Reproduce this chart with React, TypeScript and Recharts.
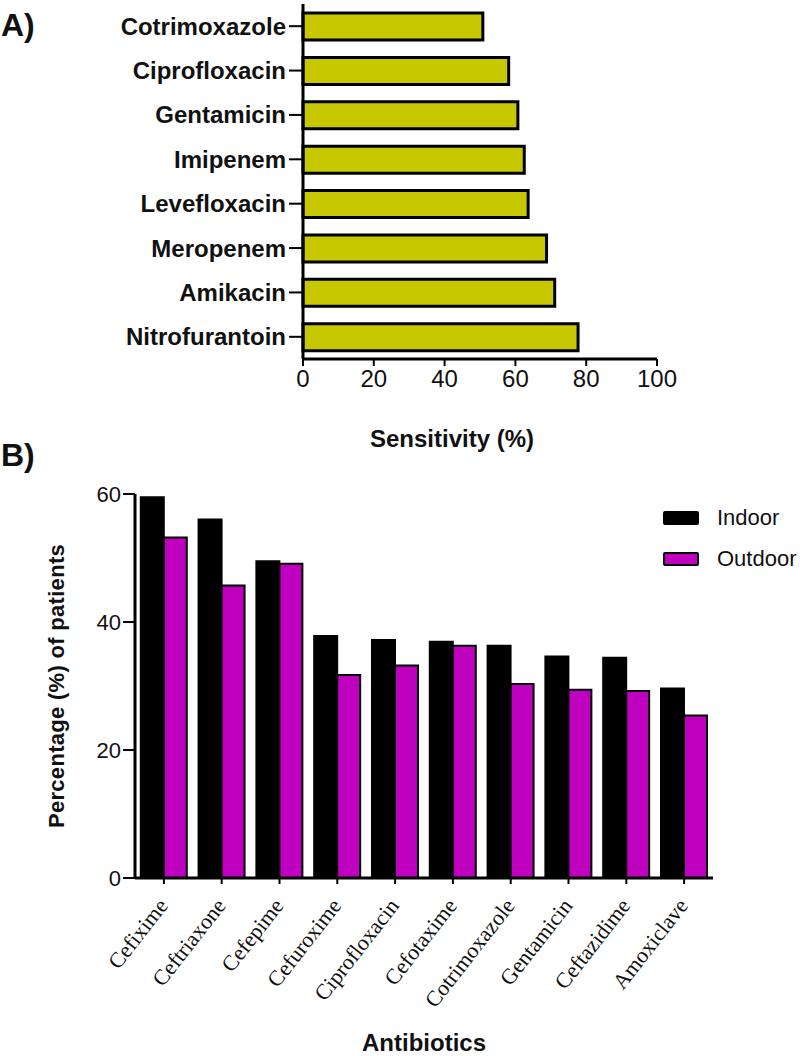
import { BarChart, Bar, XAxis, YAxis, Legend } from 'recharts';

// Panel A - sensitivity of isolates
const sensDrugs = [
  'Cotrimoxazole', 'Ciprofloxacin', 'Gentamicin', 'Imipenem',
  'Levefloxacin', 'Meropenem', 'Amikacin', 'Nitrofurantoin',
];
const sensValues = [50.8, 58.1, 60.7, 62.5, 63.6, 68.8, 71.1, 77.7];
const sensTicks = [0, 20, 40, 60, 80, 100];

// Panel B - resistance by patient setting
const abxNames = [
  'Cefixime', 'Ceftriaxone', 'Cefepime', 'Cefuroxime', 'Ciprofloxacin',
  'Cefotaxime', 'Cotrimoxazole', 'Gentamicin', 'Ceftazidime', 'Amoxiclave',
];
const indoorPct = [59.5, 56.0, 49.5, 37.8, 37.2, 36.9, 36.3, 34.6, 34.4, 29.6];
const outdoorPct = [53.2, 45.7, 49.1, 31.7, 33.2, 36.3, 30.3, 29.4, 29.2, 25.4];
const pctTicks = [0, 20, 40, 60];

const SANS = '"Liberation Sans", Arial, sans-serif';
const SERIF = '"Liberation Serif", "Times New Roman", serif';
const OLIVE = '#C8C800';
const MAGENTA = '#BF00BF';

function SlantTick({ x, y, payload }: any) {
  const px = x + 5;
  const py = y + 20;
  return (
    <text
      x={px}
      y={py}
      transform={`rotate(-52 ${px} ${py})`}
      textAnchor="end"
      fontFamily={SERIF}
      fontSize={22}
      fill="#111"
    >
      {payload.value}
    </text>
  );
}

function LegendBoxes({ payload }: any) {
  return (
    <div>
      {(payload ?? []).map((p: any) => (
        <div key={p.value} style={{ display: 'flex', alignItems: 'center', height: 41 }}>
          <span
            style={{
              display: 'inline-block', width: 36, height: 14, boxSizing: 'border-box',
              background: p.color, border: '2px solid #000', borderRadius: 2, marginRight: 18,
            }}
          />
          <span style={{ fontFamily: SANS, fontSize: 22, color: '#111' }}>{p.value}</span>
        </div>
      ))}
    </div>
  );
}

const abs = (s: React.CSSProperties): React.CSSProperties => ({
  position: 'absolute', fontFamily: SANS, fontWeight: 'bold', color: '#111', lineHeight: 1,
  whiteSpace: 'nowrap', ...s,
});

export default function App() {
  const sensData = sensDrugs.map((drug, i) => ({ drug, value: sensValues[i] }));
  const abxData = abxNames.map((name, i) => ({ name, indoor: indoorPct[i], outdoor: outdoorPct[i] }));

  return (
    <div style={{ position: 'absolute', left: 0, top: 0, width: 800, height: 1056, background: '#fff' }}>
      <BarChart
        width={800}
        height={460}
        layout="vertical"
        data={sensData}
        margin={{ top: 4, right: 143, bottom: 9, left: 0 }}
        barCategoryGap={0}
      >
        <XAxis
          type="number"
          domain={[0, 100]}
          ticks={sensTicks}
          height={92}
          tickSize={7}
          tickMargin={4}
          axisLine={{ stroke: '#000', strokeWidth: 3 }}
          tickLine={{ stroke: '#000', strokeWidth: 2 }}
          tick={{ fontFamily: SANS, fontSize: 24, fill: '#111' }}
        />
        <YAxis
          type="category"
          dataKey="drug"
          width={303}
          tickSize={14}
          tickMargin={3}
          interval={0}
          axisLine={{ stroke: '#000', strokeWidth: 3 }}
          tickLine={{ stroke: '#000', strokeWidth: 2 }}
          tick={{ fontFamily: SANS, fontSize: 24, fontWeight: 'bold', fill: '#111' }}
        />
        <Bar dataKey="value" fill={OLIVE} stroke="#000" strokeWidth={3} barSize={27} isAnimationActive={false} />
      </BarChart>

      <div style={{ position: 'absolute', left: 0, top: 460 }}>
        <BarChart
          width={800}
          height={596}
          data={abxData}
          margin={{ top: 34, right: 87, bottom: 48, left: 0 }}
          barCategoryGap="10%"
          barGap={0}
        >
          <XAxis
            dataKey="name"
            interval={0}
            height={130}
            tickSize={6}
            tickMargin={2}
            axisLine={{ stroke: '#000', strokeWidth: 3 }}
            tickLine={{ stroke: '#000', strokeWidth: 2 }}
            tick={<SlantTick />}
          />
          <YAxis
            type="number"
            domain={[0, 60]}
            ticks={pctTicks}
            width={135}
            tickSize={12}
            tickMargin={2}
            axisLine={{ stroke: '#000', strokeWidth: 3 }}
            tickLine={{ stroke: '#000', strokeWidth: 2 }}
            tick={{ fontFamily: SANS, fontSize: 22, fill: '#111' }}
          />
          <Legend
            layout="vertical"
            align="center"
            verticalAlign="middle"
            content={<LegendBoxes />}
            wrapperStyle={{ position: 'absolute', left: 663, top: 37, width: 137 }}
          />
          <Bar dataKey="indoor" name="Indoor" fill="#000" stroke="#000" strokeWidth={2} isAnimationActive={false} />
          <Bar dataKey="outdoor" name="Outdoor" fill={MAGENTA} stroke="#000" strokeWidth={2} isAnimationActive={false} />
        </BarChart>
      </div>

      <div style={abs({ left: 1, top: 9, fontSize: 32 })}>A)</div>
      <div style={abs({ left: 1, top: 439, fontSize: 32 })}>B)</div>
      <div style={abs({ left: 452, top: 427, fontSize: 24, transform: 'translateX(-50%)' })}>Sensitivity (%)</div>
      <div style={abs({ left: 424, top: 1031, fontSize: 24, transform: 'translateX(-50%)' })}>Antibiotics</div>
      <div
        style={abs({
          left: 57, top: 686, fontSize: 22, letterSpacing: 0.3,
          transform: 'translate(-50%, -50%) rotate(-90deg)',
        })}
      >
        Percentage (%) of patients
      </div>
    </div>
  );
}
